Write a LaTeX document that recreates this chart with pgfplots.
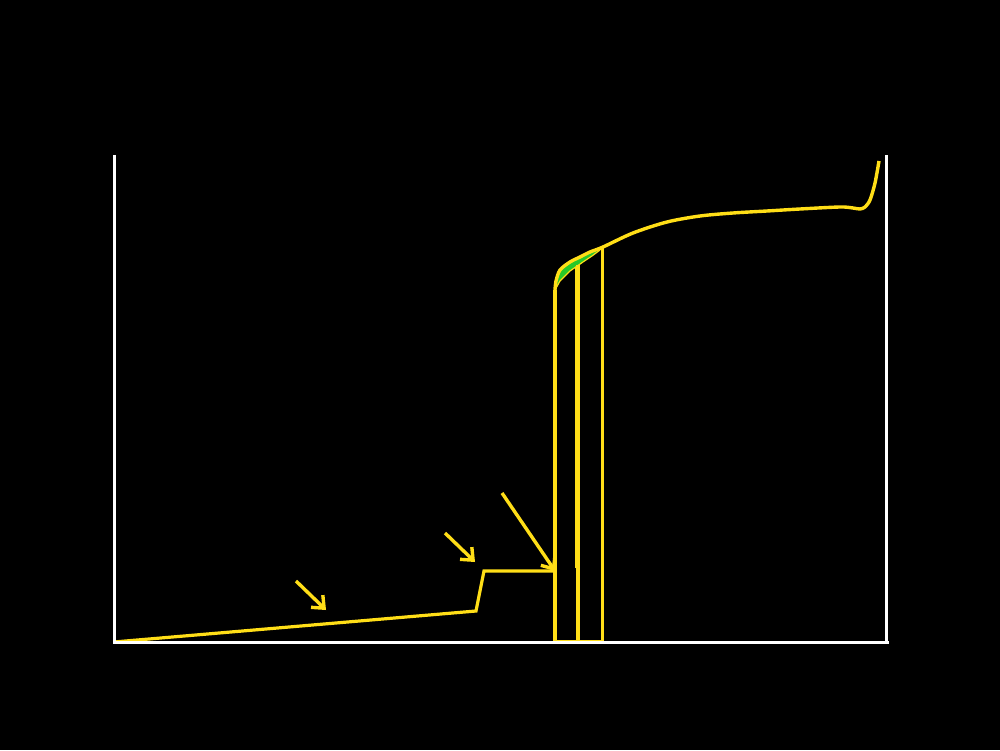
\documentclass[border=0pt]{standalone}
\usepackage{pgfplots}
\pgfplotsset{compat=1.18}
\usetikzlibrary{arrows.meta}
\definecolor{yel}{RGB}{255,222,23}
\definecolor{grn}{RGB}{40,200,40}
\begin{document}
\begin{tikzpicture}
\fill[black] (0,0) rectangle (500pt,375pt);
\useasboundingbox (0,0) rectangle (500pt,375pt);
\begin{axis}[at={(57pt,54pt)}, anchor=south west, scale only axis,
  width=386pt, height=243.5pt, xmin=0, xmax=772, ymin=0, ymax=487,
  hide axis, clip=false]
% green band
\addplot[fill=grn, draw=none] coordinates {(441,352) (442,360) (446,372) (456,380) (466,385) (476,389) (489,395) (486,392) (478,386) (469,380) (456,371) (446,361) (441,352)};
\addplot[yel, line width=0.6pt] coordinates {(441,352) (446,361) (456,371) (469,380) (478,386) (486,392)};
% vertical lines
\addplot[yel, line width=1.6pt] coordinates {(441,1) (441,352)};
\addplot[yel, line width=1.2pt] coordinates {(462,74) (462,374)};
\addplot[yel, line width=1.6pt] coordinates {(464,1) (464,377)};
\addplot[yel, line width=1.5pt] coordinates {(488,1) (488,395)};
\addplot[yel, line width=1.5pt] coordinates {(441,1) (488,1)};
% lower curve
\addplot[yel, line width=1.6pt] coordinates {(0,0) (362,31) (370,71) (441,71)};
% upper curve
\addplot[yel, line width=1.7pt, smooth, tension=0.5] coordinates {(441,352) (442,361) (446,372) (456,380) (466,385) (476,390) (489,395) (519,409) (553,420) (586,426) (619,429) (653,431) (686,433) (726,435) (739,434) (746,433) (751,435) (756,442) (761,459) (765,481)};
% arrows
\draw[yel, line width=1.7pt, -{Straight Barb[length=5pt,width=8.5pt]}] (axis cs:182,61) -- (axis cs:212,32);
\draw[yel, line width=1.7pt, -{Straight Barb[length=5pt,width=8.5pt]}] (axis cs:331,109) -- (axis cs:361,80);
\draw[yel, line width=1.7pt, -{Straight Barb[length=5pt,width=8.5pt]}] (axis cs:388,149) -- (axis cs:441,71);
% axis lines
\draw[white, line width=1.5pt] (axis cs:0,487) -- (axis cs:0,0) -- (axis cs:775,0);
\draw[white, line width=1.5pt] (axis cs:772,0) -- (axis cs:772,487);
\end{axis}
\end{tikzpicture}
\end{document}
